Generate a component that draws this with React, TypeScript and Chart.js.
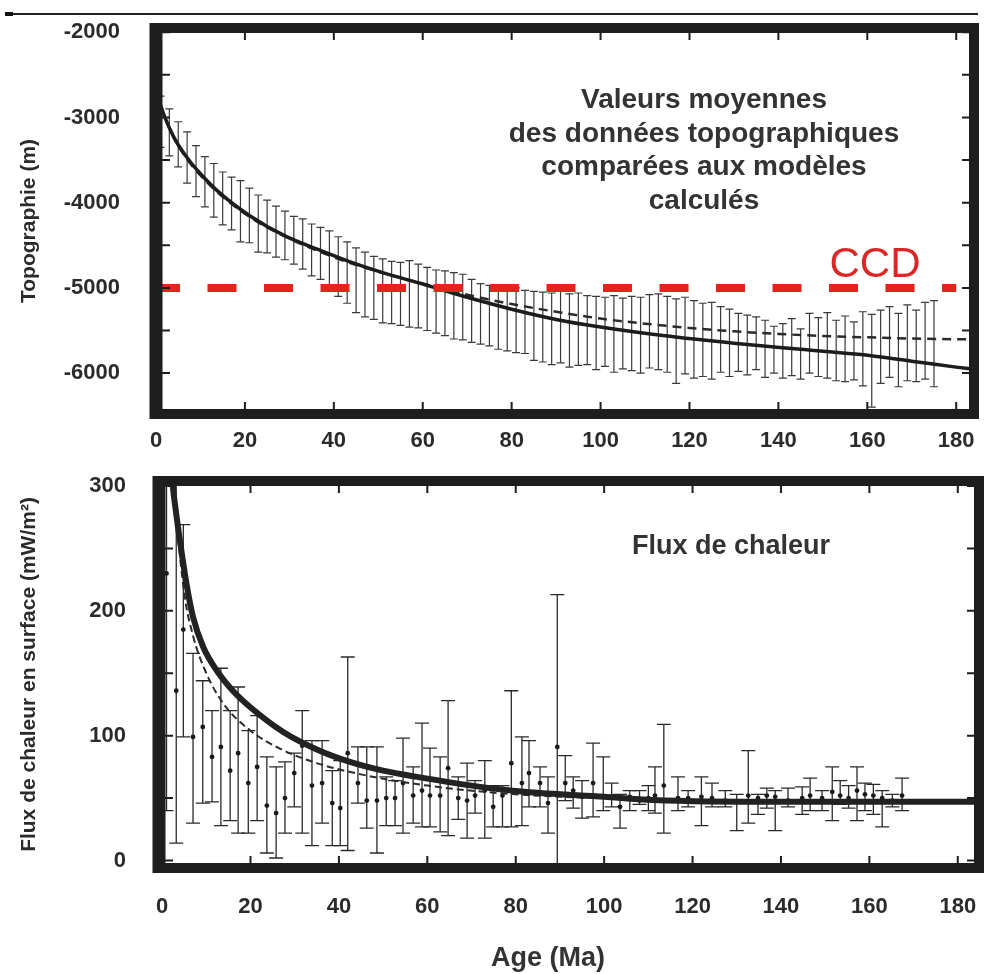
import React, { useEffect, useRef } from "react";
import { Chart, registerables } from "chart.js";

Chart.register(...registerables);

const FONT = "'Liberation Sans', Arial, Helvetica, sans-serif";
const INK = "#2b2b2b";

// ---------------- Top panel : topography (m) vs age (Ma) ----------------
const topAge = [1, 3, 5, 7, 9, 11, 13, 15, 17, 19, 21, 23, 25, 27, 29, 31, 33, 35, 37, 39, 41, 43, 45, 47, 49, 51, 53, 55, 57, 59, 61, 63, 65, 67, 69, 71, 73, 75, 77, 79, 81, 83, 85, 87, 89, 91, 93, 95, 97, 99, 101, 103, 105, 107, 109, 111, 113, 115, 117, 119, 121, 123, 125, 127, 129, 131, 133, 135, 137, 139, 141, 143, 145, 147, 149, 151, 153, 155, 157, 159, 161, 163, 165, 167, 169, 171, 173, 175];
const topHigh = [
  -2750, -2900, -3050, -3170, -3330, -3460, -3540, -3640, -3700, -3740,
  -3830, -3910, -3970, -4040, -4100, -4160, -4190, -4250, -4290, -4330,
  -4400, -4460, -4530, -4580, -4630, -4660, -4690, -4700, -4680, -4720,
  -4760, -4790, -4800, -4820, -4840, -4900, -4950, -4970, -4990, -5010,
  -5000, -5030, -5040, -5050, -5060, -5040, -5070, -5060, -5090, -5100,
  -5110, -5090, -5120, -5100, -5110, -5080, -5070, -5100, -5130, -5110,
  -5150, -5180, -5170, -5220, -5250, -5300, -5320, -5340, -5380, -5450,
  -5420, -5360, -5480, -5300, -5350, -5290, -5380, -5330, -5400, -5280,
  -5310, -5260, -5220, -5300, -5200, -5260, -5170, -5150,
];
const topLow = [
  -3350, -3450, -3580, -3770, -3930, -4050, -4170, -4260, -4320, -4460,
  -4470, -4580, -4590, -4640, -4670, -4720, -4780, -4860, -4900, -5030,
  -5100, -5180, -5290, -5340, -5370, -5410, -5420, -5440, -5460, -5470,
  -5500, -5530, -5560, -5600, -5610, -5640, -5660, -5680, -5720, -5740,
  -5760, -5770, -5850, -5870, -5900, -5880, -5930, -5910, -5900, -5960,
  -5920, -5990, -5950, -5970, -6000, -5940, -5960, -5990, -6120, -6010,
  -6060, -6040, -6070, -5990, -6040, -5980, -6020, -5960, -6050, -6000,
  -6060, -6030, -6070, -6000, -6040, -6060, -6090, -6100, -6080, -6150,
  -6400, -6120, -6050, -6160, -6090, -6100, -6070, -6160,
];
const topSolidAge = [0, 2, 4, 6, 8, 10, 14, 21, 29, 37, 44, 51, 59, 70, 80, 90, 100, 114, 130, 145, 158, 170, 180, 184];
const topSolidDepth = [-2700, -3000, -3230, -3400, -3540, -3660, -3870, -4150, -4390, -4560, -4700, -4820, -4940, -5110, -5250, -5370, -5460, -5560, -5650, -5720, -5780, -5860, -5930, -5955];
const topDashedAge = [0, 2, 5, 10, 20, 30, 40, 50, 60, 70, 80, 90, 100, 110, 120, 130, 140, 150, 160, 170, 184];
const topDashedDepth = [-2700, -3000, -3330, -3680, -4130, -4420, -4640, -4810, -4950, -5080, -5190, -5280, -5360, -5420, -5470, -5510, -5540, -5565, -5580, -5595, -5605];
const ccdAge = [0, 180];
const ccdDepth = [-5000, -5000];
const topXTicks = [0, 20, 40, 60, 80, 100, 120, 140, 160, 180];
const topYTicks = [-6000, -5000, -4000, -3000, -2000];
const topYMinor = [-6500, -6000, -5500, -5000, -4500, -4000, -3500, -3000, -2500, -2000];

// ---------------- Bottom panel : surface heat flow (mW/m²) vs age ----------------
const heatAge = [
  1, 3.2, 4.8, 7, 9.2, 11.3, 13.3, 15.4, 17.2, 19.5,
  21.5, 23.7, 25.8, 27.8, 29.9, 31.7, 33.9, 36.2, 38.5, 40.3,
  42, 44.3, 46.3, 48.6, 50.7, 52.7, 54.5, 56.8, 58.8, 60.6,
  62.9, 64.7, 67, 69, 70.8, 73, 74.9, 77, 79, 81.4,
  83, 85.5, 87.3, 89.4, 91.2, 93, 95, 97.5, 99.8, 101.7,
  103.6, 105.8, 108, 110, 111.5, 113.5, 116.7, 119, 122, 124.4,
  127.4, 130, 132.6, 134.8, 136.8, 138.7, 141.6, 144.8, 146.6, 149.3,
  151.6, 153.4, 155.3, 157.2, 159, 160.9, 162.9, 165.2, 167.4,
];
const heatMean = [
  230, 136, 185, 99, 107, 83, 91, 72, 86, 62,
  75, 44, 38, 50, 70, 92, 60, 62, 46, 42,
  86, 62, 48, 48, 50, 50, 62, 52, 56, 52,
  52, 74, 50, 48, 52, 56, 43, 52, 78, 62,
  70, 62, 46, 91, 62, 56, 51, 62, 51, 51,
  43, 51, 48, 50, 52, 60, 50, 50, 51, 50,
  48, 47, 52, 50, 52, 51, 48, 50, 52, 50,
  55, 52, 50, 56, 53, 52, 50, 48, 52,
];
const heatLow = [
  40, 14, 99, 30, 46, 47, 28, 32, 22, 22,
  32, 6, 2, 22, 43, 22, 12, 30, 12, 12,
  8, 46, 26, 6, 28, 28, 22, 30, 27, 27,
  23, 20, 33, 18, 38, 18, 27, 27, 27, 28,
  43, 43, 22, -8, 48, 42, 34, 35, 40, 43,
  26, 40, 45, 40, 38, 22, 40, 43, 28, 43,
  43, 24, 30, 37, 42, 24, 43, 37, 40, 40,
  32, 45, 42, 32, 40, 37, 27, 43, 40,
];
const heatHigh = [
  320, 320, 269, 166, 144, 120, 154, 120, 139, 104,
  116, 83, 75, 79, 86, 120, 96, 96, 72, 80,
  163, 91, 91, 91, 67, 64, 98, 75, 110, 90,
  83, 128, 67, 78, 64, 80, 60, 60, 136, 99,
  96, 75, 67, 213, 84, 67, 64, 94, 83, 62,
  53, 56, 56, 60, 75, 109, 67, 56, 67, 62,
  56, 53, 88, 53, 58, 56, 58, 59, 66, 56,
  75, 64, 60, 75, 62, 61, 56, 53, 66,
];
const heatSolidAge = [1.9, 2.3, 3, 4, 5.6, 7, 9.3, 12.4, 16, 19.9, 27.4, 35, 42.5, 50, 57.7, 70, 82, 100, 111, 140, 184.8];
const heatSolidFlux = [330, 305, 283, 257, 220, 195, 171, 152, 136, 123, 103, 89, 79, 72, 67, 60, 55, 51, 48.5, 47, 47];
const heatDashedAge = [2.6, 3, 5, 7, 10, 14, 20, 27, 35, 45, 60, 80, 100, 140, 184.8];
const heatDashedFlux = [320, 290, 215, 180, 150, 125, 104, 89, 78, 69, 60, 53, 50, 48, 47];
const heatXTicks = [0, 20, 40, 60, 80, 100, 120, 140, 160, 180];
const heatYTicks = [0, 100, 200, 300];
const heatYMinor = [0, 50, 100, 150, 200, 250, 300];

const topTitle = "Topographie (m)";
const heatTitle = "Flux de chaleur en surface (mW/m²)";
const xTitle = "Age (Ma)";
const topNote = ["Valeurs moyennes", "des données topographiques", "comparées aux modèles", "calculés"];
const ccdLabel = "CCD";
const heatNote = "Flux de chaleur";

const pts = (xs: number[], ys: number[]) => xs.map((x, i) => ({ x, y: ys[i] }));

function errorBars(id: string, ages: number[], lows: number[], highs: number[], cap: number, color: string, lw: number) {
  return {
    id,
    beforeDatasetsDraw(chart: any) {
      const { ctx, chartArea: a, scales } = chart;
      const x = scales.x, y = scales.y;
      ctx.save();
      ctx.beginPath();
      ctx.rect(a.left, a.top, a.right - a.left, a.bottom - a.top);
      ctx.clip();
      ctx.strokeStyle = color;
      ctx.lineWidth = lw;
      ages.forEach((age: number, i: number) => {
        const px = x.getPixelForValue(age);
        const pl = y.getPixelForValue(lows[i]);
        const ph = y.getPixelForValue(highs[i]);
        ctx.beginPath();
        ctx.moveTo(px, pl);
        ctx.lineTo(px, ph);
        ctx.moveTo(px - cap, pl);
        ctx.lineTo(px + cap, pl);
        ctx.moveTo(px - cap, ph);
        ctx.lineTo(px + cap, ph);
        ctx.stroke();
      });
      ctx.restore();
    },
  };
}

function frame(id: string, xVals: number[], yVals: number[]) {
  return {
    id,
    afterDraw(chart: any) {
      const { ctx, chartArea: a, scales } = chart;
      const x = scales.x, y = scales.y;
      ctx.save();
      ctx.strokeStyle = "#1e1e1e";
      ctx.lineWidth = 2;
      ctx.beginPath();
      xVals.forEach((v) => {
        const px = x.getPixelForValue(v);
        ctx.moveTo(px, a.top);
        ctx.lineTo(px, a.top + 12);
        ctx.moveTo(px, a.bottom);
        ctx.lineTo(px, a.bottom - 12);
      });
      yVals.forEach((v) => {
        const py = y.getPixelForValue(v);
        ctx.moveTo(a.left, py);
        ctx.lineTo(a.left + 14, py);
        ctx.moveTo(a.right, py);
        ctx.lineTo(a.right - 12, py);
      });
      ctx.stroke();
      ctx.lineWidth = 10;
      ctx.strokeRect(a.left, a.top, a.right - a.left, a.bottom - a.top);
      ctx.lineWidth = 13;
      ctx.beginPath();
      ctx.moveTo(a.left, a.top - 5);
      ctx.lineTo(a.left, a.bottom + 5);
      ctx.stroke();
      ctx.restore();
    },
  };
}

const zeroPad = (s: any) => {
  s.paddingTop = 0;
  s.paddingBottom = 0;
  s.paddingLeft = 0;
  s.paddingRight = 0;
};

const tickFont = { family: FONT, size: 22, weight: "bold" as const };
const titleFont = { family: FONT, size: 21, weight: "bold" as const };

export default function App() {
  const topRef = useRef<HTMLCanvasElement>(null);
  const botRef = useRef<HTMLCanvasElement>(null);

  useEffect(() => {
    const top = new Chart(topRef.current as HTMLCanvasElement, {
      type: "line",
      data: {
        datasets: [
          {
            data: pts(ccdAge, ccdDepth),
            borderColor: "#e3231c",
            borderWidth: 8,
            borderDash: [29, 27.5],
            borderDashOffset: 5,
            borderCapStyle: "butt",
            pointRadius: 0,
          },
          {
            data: pts(topSolidAge, topSolidDepth),
            borderColor: "#1c1c1c",
            borderWidth: 3.5,
            cubicInterpolationMode: "monotone",
            pointRadius: 0,
          },
          {
            data: pts(topDashedAge, topDashedDepth),
            borderColor: "#2a2a2a",
            borderWidth: 2.5,
            borderDash: [9, 6],
            cubicInterpolationMode: "monotone",
            pointRadius: 0,
          },
        ],
      },
      options: {
        responsive: false,
        animation: false,
        events: [],
        layout: { padding: { left: 0, right: 11, top: 28, bottom: 0 } },
        plugins: { legend: { display: false }, tooltip: { enabled: false } },
        scales: {
          x: {
            type: "linear",
            min: 0,
            max: 184,
            afterBuildTicks: (s: any) => { s.ticks = topXTicks.map((v) => ({ value: v })); },
            afterFit: (s: any) => { s.height = 56; zeroPad(s); },
            grid: { display: false, drawTicks: false },
            border: { display: false },
            ticks: { padding: 14, color: INK, font: tickFont, maxRotation: 0, autoSkip: false, callback: (v: any) => String(v) },
          },
          y: {
            type: "linear",
            min: -6480,
            max: -1950,
            afterBuildTicks: (s: any) => { s.ticks = topYTicks.map((v) => ({ value: v })); },
            afterFit: (s: any) => { s.width = 156; zeroPad(s); },
            grid: { display: false, drawTicks: false },
            border: { display: false },
            ticks: { padding: 36, color: INK, font: tickFont, autoSkip: false, callback: (v: any) => String(v) },
            title: { display: true, text: topTitle, color: INK, font: titleFont, padding: { top: 17, bottom: 0 } },
          },
        },
      },
      plugins: [errorBars("topBars", topAge, topLow, topHigh, 4, "#3a3a3a", 1.2), frame("topFrame", topXTicks, topYMinor)],
    } as any);

    const bot = new Chart(botRef.current as HTMLCanvasElement, {
      type: "line",
      data: {
        datasets: [
          {
            data: pts(heatSolidAge, heatSolidFlux),
            borderColor: "#222222",
            borderWidth: 6,
            cubicInterpolationMode: "monotone",
            pointRadius: 0,
          },
          {
            data: pts(heatDashedAge, heatDashedFlux),
            borderColor: "#2a2a2a",
            borderWidth: 2,
            borderDash: [7, 4],
            cubicInterpolationMode: "monotone",
            pointRadius: 0,
          },
          {
            data: pts(heatAge, heatMean),
            showLine: false,
            pointRadius: 2.4,
            pointBackgroundColor: "#1a1a1a",
            pointBorderWidth: 0,
          },
        ],
      },
      options: {
        responsive: false,
        animation: false,
        events: [],
        layout: { padding: { left: 0, right: 6, top: 21, bottom: 0 } },
        plugins: { legend: { display: false }, tooltip: { enabled: false } },
        scales: {
          x: {
            type: "linear",
            min: -0.7,
            max: 184.8,
            afterBuildTicks: (s: any) => { s.ticks = heatXTicks.map((v) => ({ value: v })); },
            afterFit: (s: any) => { s.height = 106; zeroPad(s); },
            grid: { display: false, drawTicks: false },
            border: { display: false },
            ticks: { padding: 26, color: INK, font: tickFont, maxRotation: 0, autoSkip: false, callback: (v: any) => String(v) },
          },
          y: {
            type: "linear",
            min: -6,
            max: 304,
            afterBuildTicks: (s: any) => { s.ticks = heatYTicks.map((v) => ({ value: v })); },
            afterFit: (s: any) => { s.width = 159; zeroPad(s); },
            grid: { display: false, drawTicks: false },
            border: { display: false },
            ticks: { padding: 33, color: INK, font: tickFont, autoSkip: false, callback: (v: any) => String(v) },
            title: { display: true, text: heatTitle, color: INK, font: titleFont, padding: { top: 17, bottom: 0 } },
          },
        },
      },
      plugins: [errorBars("heatBars", heatAge, heatLow, heatHigh, 7, "#2a2a2a", 1.3), frame("heatFrame", heatXTicks, heatYMinor)],
    } as any);

    return () => {
      top.destroy();
      bot.destroy();
    };
  }, []);

  const textBase: React.CSSProperties = { position: "absolute", fontFamily: FONT, whiteSpace: "nowrap" };

  return (
    <div style={{ position: "fixed", left: 0, top: 0, width: 985, height: 974, background: "#ffffff", overflow: "hidden" }}>
      <div style={{ position: "absolute", left: 5, top: 13, width: 973, borderTop: "2px solid #222" }} />
      <div style={{ position: "absolute", left: 5, top: 12, width: 8, height: 4, background: "#111" }} />
      <canvas ref={topRef} width={985} height={470} style={{ position: "absolute", left: 0, top: 0 }} />
      <canvas ref={botRef} width={985} height={514} style={{ position: "absolute", left: 0, top: 460 }} />
      <div style={{ ...textBase, left: 504, width: 400, top: 82, textAlign: "center", fontSize: 28, lineHeight: "33.5px", fontWeight: "bold", color: "#333" }}>
        {topNote.map((t, i) => (
          <div key={i}>{t}</div>
        ))}
      </div>
      <div style={{ ...textBase, left: 775, width: 200, top: 242, textAlign: "center", fontSize: 42, lineHeight: "42px", color: "#dc2626" }}>{ccdLabel}</div>
      <div style={{ ...textBase, left: 581, width: 300, top: 529, textAlign: "center", fontSize: 27, lineHeight: "32px", fontWeight: "bold", color: "#333" }}>{heatNote}</div>
      <div style={{ ...textBase, left: 398, width: 300, top: 941, textAlign: "center", fontSize: 27, lineHeight: "32px", fontWeight: "bold", color: "#333" }}>{xTitle}</div>
    </div>
  );
}
